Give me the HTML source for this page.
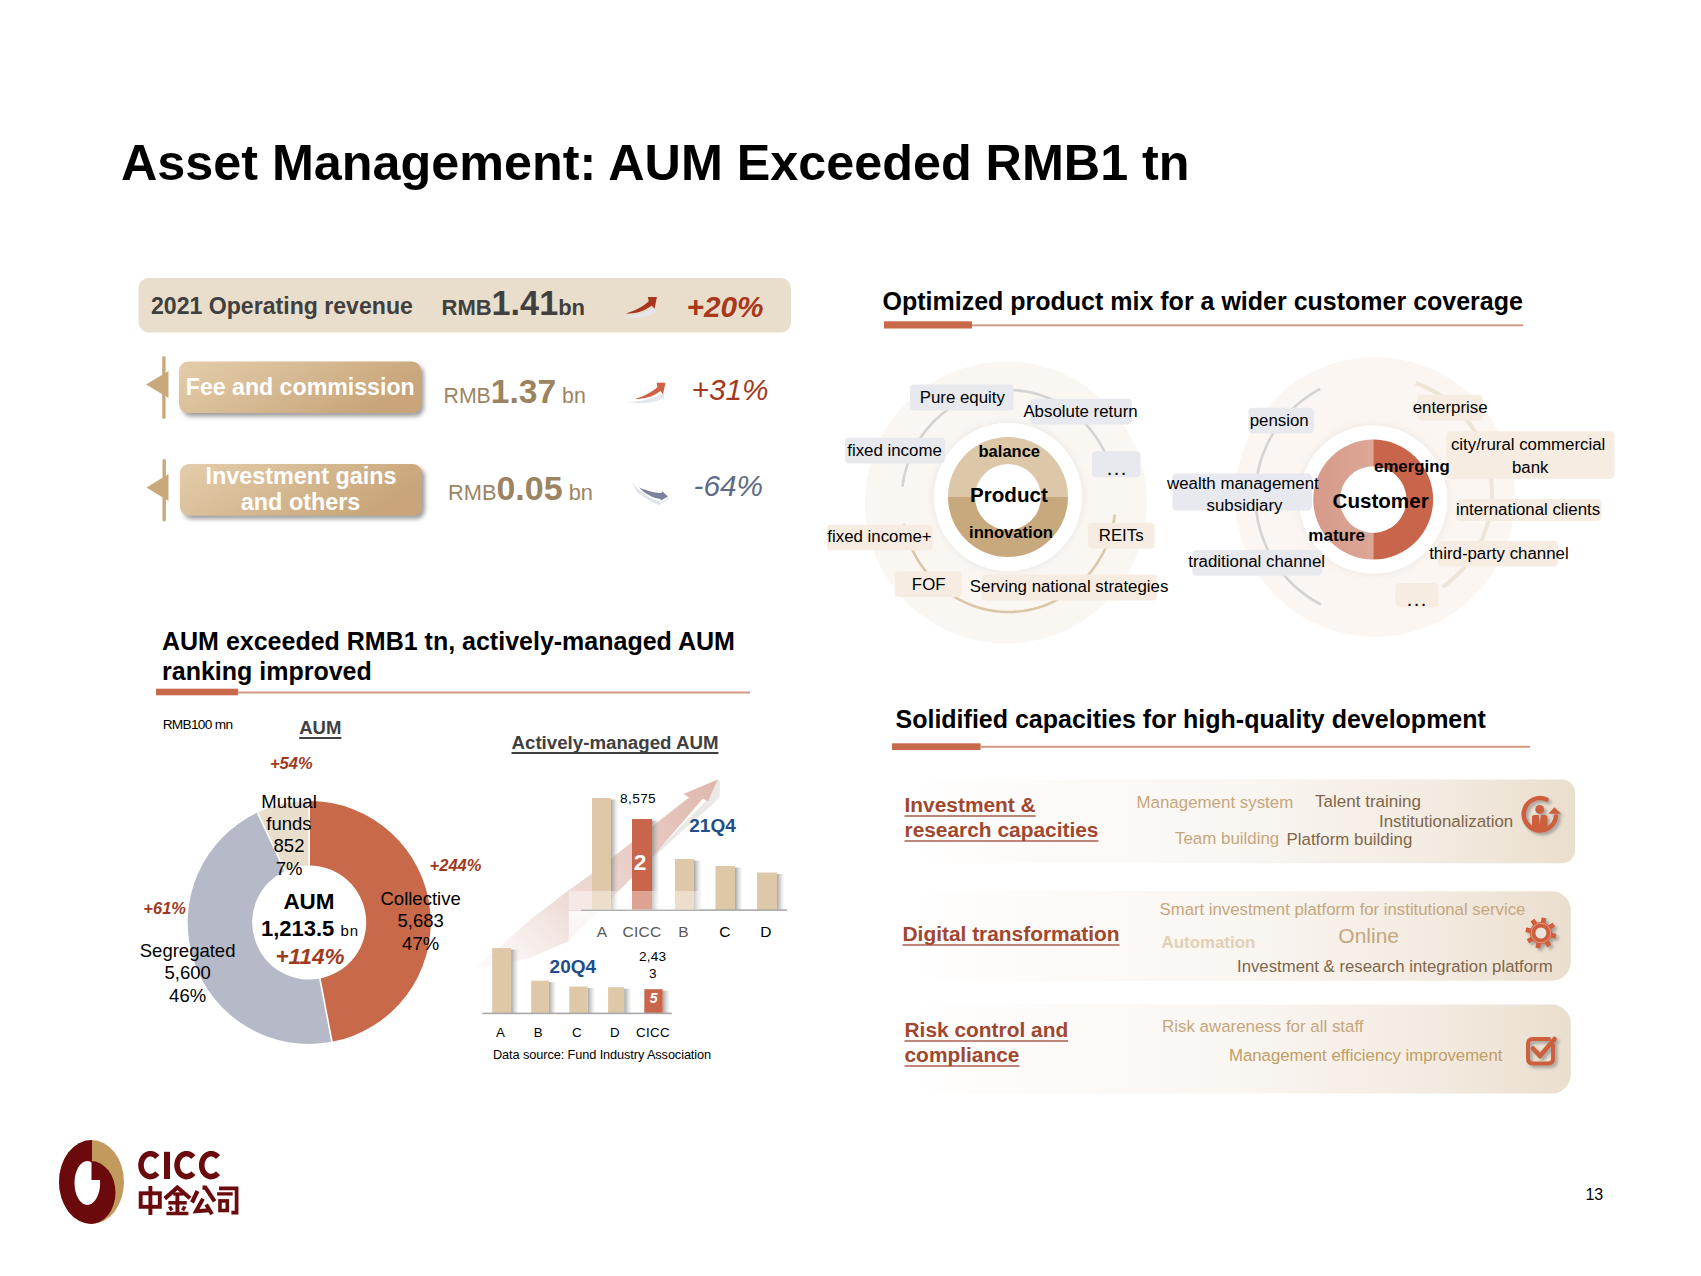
<!DOCTYPE html>
<html><head><meta charset="utf-8"><style>
*{margin:0;padding:0;box-sizing:border-box}
html,body{width:1701px;height:1276px;overflow:hidden;background:#fff}
body{position:relative;font-family:"Liberation Sans", sans-serif;color:#000}
svg.bg{position:absolute;left:0;top:0}
.t{position:absolute;white-space:nowrap;line-height:1}
</style></head><body>
<svg class="bg" width="1701" height="1276" viewBox="0 0 1701 1276">
<defs>
<linearGradient id="btn" x1="0" y1="0" x2="1" y2="0.35"><stop offset="0" stop-color="#e4cdab"/><stop offset="0.5" stop-color="#d6ba93"/><stop offset="1" stop-color="#c9a579"/></linearGradient>
<filter id="sh" x="-10%" y="-20%" width="130%" height="160%"><feDropShadow dx="3" dy="3.5" stdDeviation="2.2" flood-color="#6a6a6a" flood-opacity="0.65"/></filter>
<filter id="shi" x="-30%" y="-30%" width="170%" height="170%"><feDropShadow dx="2.5" dy="2.5" stdDeviation="1.8" flood-color="#777" flood-opacity="0.6"/></filter>
<filter id="halo" x="-30%" y="-30%" width="160%" height="160%"><feDropShadow dx="0" dy="0" stdDeviation="5" flood-color="#aaa" flood-opacity="0.25"/></filter>
<filter id="blur1"><feGaussianBlur stdDeviation="0.6"/></filter>
<linearGradient id="panel" x1="0" y1="0" x2="1" y2="0"><stop offset="0" stop-color="#fff" stop-opacity="0"/><stop offset="0.1" stop-color="#fefdfc"/><stop offset="0.5" stop-color="#faf6f2"/><stop offset="0.8" stop-color="#f3ebe1"/><stop offset="1" stop-color="#eadecd"/></linearGradient>
<linearGradient id="barsh" x1="0" y1="0" x2="1" y2="0"><stop offset="0" stop-color="#888" stop-opacity="0.75"/><stop offset="1" stop-color="#bbb" stop-opacity="0"/></linearGradient>
<linearGradient id="bigarrow" x1="500" y1="990" x2="718" y2="780" gradientUnits="userSpaceOnUse"><stop offset="0" stop-color="#f6eeec" stop-opacity="0.3"/><stop offset="0.35" stop-color="#ebd3cd" stop-opacity="0.8"/><stop offset="1" stop-color="#dcaea3" stop-opacity="0.9"/></linearGradient>
<linearGradient id="fadeW2" x1="0" y1="0" x2="0" y2="1"><stop offset="0" stop-color="#fff" stop-opacity="0.85"/><stop offset="0.8" stop-color="#fff" stop-opacity="0.6"/><stop offset="1" stop-color="#fff" stop-opacity="0"/></linearGradient>
<linearGradient id="custL" x1="0" y1="0" x2="1" y2="0"><stop offset="0" stop-color="#d69a89"/><stop offset="1" stop-color="#dca797"/></linearGradient>
</defs>
<rect x="138.5" y="278" width="652.5" height="54.5" rx="10" fill="#e9ddcb"/>
<rect x="162.2" y="356" width="3.4" height="63" rx="1.7" fill="#c9a87c"/>
<polygon points="146,384.6 168.5,371 168.5,398" fill="#c9a87c"/>
<rect x="179" y="361.5" width="242" height="51.5" rx="9" fill="url(#btn)" filter="url(#sh)"/>
<rect x="162.5" y="459" width="3.4" height="62.5" rx="1.7" fill="#c9a87c"/>
<polygon points="146.5,487.4 168.5,474 168.5,501" fill="#c9a87c"/>
<rect x="180" y="464" width="242" height="51.6" rx="9" fill="url(#btn)" filter="url(#sh)"/>
<g transform="translate(610,285) scale(1.0)"><path d="M7.5,31.5 C20,32 34,29 45,22 L46,27.5 C35,33 22,34.5 7.5,31.5 Z" fill="#e4e6ee" opacity="0.95"/><path d="M15.6,28.6 C24,26 32,22.5 38.8,16.3 L37.9,12.1 L46.9,12.1 L44.4,23.9 L41.9,20.4 C34,26.5 25,28.6 15.6,28.6 Z" fill="#a8351c"/></g>
<g transform="translate(619.5,371) scale(0.98)"><path d="M7.5,31.5 C20,32 34,29 45,22 L46,27.5 C35,33 22,34.5 7.5,31.5 Z" fill="#e4e6ee" opacity="0.95"/><path d="M15.6,28.6 C24,26 32,22.5 38.8,16.3 L37.9,12.1 L46.9,12.1 L44.4,23.9 L41.9,20.4 C34,26.5 25,28.6 15.6,28.6 Z" fill="#cf6140"/></g>
<g><path d="M632.9,482.7 C634.5,486 636.5,488.5 639,489.8 C643,493 646,495.5 648.2,496.8 C652,499 655.5,500.3 658.8,501 L660.6,503.2 L668.6,497.2 L669,499 L658.8,504.9 C654,503 651,501.5 648.2,499.6 C644,497 640.5,495 637.6,492.6 C635.5,490 634,487 632.9,484.1 Z" fill="#dfe2ea"/><path d="M639,487.3 C641,488.5 642.8,489.2 644.7,489.6 C647,490.6 649.5,491.2 651.7,491.7 C654,492.2 656.5,492.6 658.8,492.9 L661.8,492.75 L662.15,491.2 L668,496.5 L660.6,500.7 L660.9,499.3 C659,498.6 657,498.2 655.3,497.9 C652.5,496.9 650.3,495.8 648.2,494.7 C646.3,493.7 644.5,492.5 642.9,491.2 C641.4,490 640.2,488.7 639,487.3 Z" fill="#7b829c"/></g>
<rect x="884" y="321.3" width="88" height="7.2" fill="#c8694a"/>
<rect x="972" y="324.3" width="551" height="2" fill="#d29a86"/>
<rect x="156" y="688.7" width="82" height="6.6" fill="#c8694a"/>
<rect x="238" y="691.5" width="512" height="2" fill="#d29a86"/>
<rect x="892" y="743.3" width="88.6" height="6.7" fill="#c8694a"/>
<rect x="980.6" y="745.8" width="549.4" height="2" fill="#d29a86"/>
<circle cx="1006" cy="502.5" r="141" fill="#faf7f3"/>
<path d="M902.42,486.51 L903.11,481.80 L904.00,477.13 L905.09,472.51 L906.36,467.93 L907.82,463.42 L909.47,458.97 L911.30,454.60 L913.30,450.32 L915.49,446.13 L917.84,442.04 L920.36,438.06 L923.05,434.20 L925.89,430.46 L928.88,426.85 L932.02,423.37 L935.30,420.04 L938.71,416.86 L942.26,413.83 L945.92,410.96 L949.70,408.26 L953.59,405.73 L957.58,403.37 L961.66,401.20 L965.83,399.21 L970.08,397.40 L974.40,395.79 L978.78,394.37 L983.22,393.14 L987.70,392.12 L992.22,391.29 L996.77,390.67 L1001.35,390.25 L1005.93,390.03 L1010.52,390.02 L1015.11,390.21 L1019.68,390.61 L1024.24,391.21 L1028.76,392.01 L1033.25,393.01 L1037.69,394.21 L1042.08,395.61 L1046.41,397.20 L1050.67,398.98 L1054.85,400.95 L1058.94,403.11 L1062.94,405.44 L1066.84,407.95 L1070.64,410.63 L1074.31,413.48 L1077.87,416.49 L1081.30,419.65 L1084.60,422.97 L1087.76,426.43 L1090.77,430.02 L1093.63,433.75 L1096.33,437.60 L1098.87,441.56 L1101.24,445.64 L1103.45,449.82 L1105.47,454.09" fill="none" stroke="#d3d3d3" stroke-width="2.6"/>
<path d="M1114.70,514.53 L1113.98,519.67 L1113.02,524.77 L1111.83,529.82 L1110.42,534.81 L1108.78,539.72 L1106.92,544.55 L1104.85,549.28 L1102.56,553.91 L1100.07,558.42 L1097.38,562.80 L1094.49,567.05 L1091.42,571.16 L1088.16,575.11 L1084.73,578.89 L1081.13,582.51 L1077.37,585.95 L1073.46,589.20 L1069.41,592.26 L1065.23,595.12 L1060.92,597.77 L1056.49,600.21 L1051.96,602.43 L1047.34,604.43 L1042.63,606.20 L1037.84,607.74 L1032.99,609.05 L1028.09,610.12 L1023.14,610.96 L1018.17,611.55 L1013.17,611.89 L1008.16,612.00 L1003.15,611.86 L998.15,611.48 L993.18,610.86 L988.24,609.99 L983.34,608.89 L978.50,607.55 L973.72,605.97 L969.02,604.17 L964.41,602.14 L959.90,599.89 L955.49,597.42 L951.19,594.74 L947.03,591.85 L942.99,588.77 L939.10,585.49 L935.37,582.03 L931.79,578.39 L928.38,574.58 L925.15,570.60 L922.10,566.48 L919.24,562.21 L916.58,557.81 L914.11,553.28 L911.86,548.64 L909.81,543.90 L907.98,539.06 L906.38,534.13 L904.99,529.14 L903.84,524.08" fill="none" stroke="#dcc6a8" stroke-width="2.6"/>
<circle cx="1008" cy="497" r="74" fill="#fff" filter="url(#halo)"/>
<circle cx="1008" cy="497" r="74" fill="#fff"/>
<path d="M948.00,497.00 A60,60 0 0 1 1068.00,497.00 L1041.00,497.00 A33,33 0 0 0 975.00,497.00 Z" fill="#dcc7a8"/>
<path d="M1068.00,497.00 A60,60 0 0 1 948.00,497.00 L975.00,497.00 A33,33 0 0 0 1041.00,497.00 Z" fill="#c8a97e"/>
<rect x="910" y="384.5" width="103.6" height="26.0" rx="4" fill="#e8e9ee"/>
<rect x="1030" y="398.8" width="102.0" height="25.8" rx="4" fill="#e8e9ee"/>
<rect x="845" y="437.7" width="100.0" height="25.8" rx="4" fill="#e8e9ee"/>
<rect x="1092" y="451.3" width="48.5" height="26.0" rx="4" fill="#e8e9ee"/>
<rect x="827" y="524.7" width="105.7" height="25.5" rx="4" fill="#f6ece1"/>
<rect x="1088" y="522.7" width="66.6" height="25.8" rx="4" fill="#f6ece1"/>
<rect x="895" y="571.6" width="67.0" height="25.4" rx="4" fill="#f6ece1"/>
<rect x="981.3" y="574.5" width="175.7" height="26.0" rx="4" fill="#f6ece1"/>
<circle cx="1375" cy="497" r="140" fill="#fcf6f2"/>
<path d="M1321.17,604.72 A122,122 0 0 1 1320.22,388.78" fill="none" stroke="#d3d3d3" stroke-width="2.6"/>
<path d="M1415.67,383.00 A116,116 0 0 1 1442.53,587.02" fill="none" stroke="#efe4d8" stroke-width="4"/>
<circle cx="1373.2" cy="499.6" r="74" fill="#fff" filter="url(#halo)"/>
<circle cx="1373.2" cy="499.6" r="74" fill="#fff"/>
<path d="M1373.20,439.60 A60,60 0 0 1 1373.20,559.60 L1373.20,532.90 A33.3,33.3 0 0 0 1373.20,466.30 Z" fill="#c8654a"/>
<path d="M1373.20,559.60 A60,60 0 0 1 1373.20,439.60 L1373.20,466.30 A33.3,33.3 0 0 0 1373.20,532.90 Z" fill="url(#custL)"/>
<rect x="1248.4" y="407.7" width="65.6" height="25.7" rx="4.5" fill="#e8e9ee"/>
<rect x="1172.4" y="473.5" width="139.6" height="37.0" rx="4.5" fill="#e8e9ee"/>
<rect x="1192.3" y="550" width="130.2" height="25.7" rx="4.5" fill="#e8e9ee"/>
<rect x="1417" y="394.7" width="65.7" height="26.0" rx="4.5" fill="#f6ece1"/>
<rect x="1446" y="431.2" width="168.5" height="47.5" rx="4.5" fill="#f6ece1"/>
<rect x="1455.7" y="498.9" width="145.9" height="22.1" rx="4.5" fill="#f6ece1"/>
<rect x="1437.7" y="541" width="120.3" height="25.6" rx="4.5" fill="#f6ece1"/>
<rect x="1395.4" y="583" width="42.9" height="24.5" rx="4.5" fill="#f6ece1"/>
<path d="M309.20,801.00 A121.5,121.5 0 0 1 331.97,1041.85 L319.88,978.49 A57,57 0 0 0 309.20,865.50 Z" fill="#c8694a"/>
<path d="M331.97,1041.85 A121.5,121.5 0 0 1 257.47,812.56 L284.93,870.92 A57,57 0 0 0 319.88,978.49 Z" fill="#b6b9c7"/>
<path d="M257.47,812.56 A121.5,121.5 0 0 1 309.20,801.00 L309.20,865.50 A57,57 0 0 0 284.93,870.92 Z" fill="#e9ddcc"/>
<line x1="309.20" y1="866.50" x2="309.20" y2="799.50" stroke="#fff" stroke-width="1.6"/>
<line x1="319.69" y1="977.51" x2="332.25" y2="1043.32" stroke="#fff" stroke-width="1.6"/>
<line x1="285.36" y1="871.83" x2="256.83" y2="811.21" stroke="#fff" stroke-width="1.6"/>
<path d="M706,801 L717.6,779.5 L720,782 L719.5,797 L712,805 L680,833 L655,856 L650,858 Z" fill="#e6e3e3" opacity="0.85"/>
<path d="M474,969 L531,919 L568,890.8 L592.3,873.2 L689,797.5 L683.5,794 L717.6,779.5 L708,801.5 L703,798.5 L655,854 L610,900 L568.8,941 L530,958 Z" fill="url(#bigarrow)"/>
<rect x="611" y="799.5" width="7.5" height="110.5" fill="url(#barsh)"/>
<rect x="592" y="798" width="19" height="112" fill="#dfc8a7"/>
<rect x="652" y="820.5" width="7.5" height="89.5" fill="url(#barsh)"/>
<rect x="632" y="819" width="20" height="91" fill="#c8654a"/>
<rect x="694" y="860.5" width="7.5" height="49.5" fill="url(#barsh)"/>
<rect x="675" y="859" width="19" height="51" fill="#dfc8a7"/>
<rect x="735" y="867.5" width="7.5" height="42.5" fill="url(#barsh)"/>
<rect x="715.5" y="866" width="19.5" height="44" fill="#dfc8a7"/>
<rect x="777" y="874.0" width="7.5" height="36.0" fill="url(#barsh)"/>
<rect x="757" y="872.5" width="20" height="37.5" fill="#dfc8a7"/>
<rect x="581" y="909.3" width="206" height="1.6" fill="#a8a8a8"/>
<rect x="568.8" y="891" width="130.5" height="19" fill="#fff" opacity="0.4"/>
<rect x="568.8" y="911" width="130.5" height="40" fill="url(#fadeW2)"/>
<rect x="511.1" y="949.6" width="7.5" height="63.39999999999998" fill="url(#barsh)"/>
<rect x="492.2" y="948.1" width="18.900000000000034" height="64.89999999999998" fill="#dfc8a7"/>
<rect x="548.9" y="982.2" width="7.5" height="30.799999999999955" fill="url(#barsh)"/>
<rect x="531.2" y="980.7" width="17.699999999999932" height="32.299999999999955" fill="#dfc8a7"/>
<rect x="587.7" y="988.0" width="7.5" height="25.0" fill="url(#barsh)"/>
<rect x="569.3" y="986.5" width="18.40000000000009" height="26.5" fill="#dfc8a7"/>
<rect x="624.2" y="988.7" width="7.5" height="24.299999999999955" fill="url(#barsh)"/>
<rect x="608.1" y="987.2" width="16.100000000000023" height="25.799999999999955" fill="#dfc8a7"/>
<rect x="662.7" y="990.7" width="7.5" height="22.299999999999955" fill="url(#barsh)"/>
<rect x="644.3" y="989.2" width="18.40000000000009" height="23.799999999999955" fill="#c8654a"/>
<rect x="482.3" y="1012.6" width="189.5" height="1.6" fill="#a8a8a8"/>
<rect x="888" y="779.5" width="687" height="83.8" rx="13" fill="url(#panel)"/>
<rect x="888" y="891.3" width="682.8" height="89.4" rx="19" fill="url(#panel)"/>
<rect x="888" y="1004.6" width="682.8" height="89.0" rx="19" fill="url(#panel)"/>
<g filter="url(#shi)" fill="#cd5e3e"><path d="M1546.5,799.5 A16.2,16.2 0 1 0 1556,816.5" fill="none" stroke="#cd5e3e" stroke-width="4.6" stroke-linecap="round"/><polygon points="1548.4,813.8 1554.4,807.2 1561,813.8"/><circle cx="1539.7" cy="809.4" r="4.4"/><path d="M1532,816.5 Q1532,815 1534.5,815 L1538.8,815 L1539.6,825 L1541,815 L1545,815 Q1547.5,815 1547.5,817.5 L1547.5,825 Q1545,829 1539.7,829 Q1533,829 1532,825 Z"/></g>
<g filter="url(#shi)" fill="#cd5e3e"><rect x="1538.5" y="917.6" width="4.8" height="7" rx="0.6" transform="rotate(12 1540.9 933)"/><rect x="1538.5" y="917.6" width="4.8" height="7" rx="0.6" transform="rotate(57 1540.9 933)"/><rect x="1538.5" y="917.6" width="4.8" height="7" rx="0.6" transform="rotate(102 1540.9 933)"/><rect x="1538.5" y="917.6" width="4.8" height="7" rx="0.6" transform="rotate(147 1540.9 933)"/><rect x="1538.5" y="917.6" width="4.8" height="7" rx="0.6" transform="rotate(192 1540.9 933)"/><rect x="1538.5" y="917.6" width="4.8" height="7" rx="0.6" transform="rotate(237 1540.9 933)"/><rect x="1538.5" y="917.6" width="4.8" height="7" rx="0.6" transform="rotate(282 1540.9 933)"/><rect x="1538.5" y="917.6" width="4.8" height="7" rx="0.6" transform="rotate(327 1540.9 933)"/><circle cx="1540.9" cy="933" r="11" /></g>
<circle cx="1540.9" cy="933" r="5.5" fill="#e9e3dc"/>
<circle cx="1540.9" cy="933" r="9.8" fill="none" stroke="#f0c4b4" stroke-width="0.6"/>
<g filter="url(#shi)" fill="none" stroke="#cd5e3e" stroke-linecap="round" stroke-linejoin="round"><path d="M1549,1039 L1533,1039 Q1528,1039 1528,1044 L1528,1058.5 Q1528,1063.5 1533,1063.5 L1548,1063.5 Q1553,1063.5 1553,1058.5 L1553,1045" stroke-width="3.9"/><path d="M1533,1048.5 L1540,1056 L1554.5,1039" stroke-width="4.5"/></g>
<g><ellipse cx="91.5" cy="1182" rx="32.5" ry="42" fill="#c39a5e"/><path d="M92,1140 L91.5,1140 A32.5,42 0 0 0 91.5,1224 L92,1224 Z" fill="#6a0a0c"/><path d="M91,1161 A24.5,31.5 0 0 1 91,1224 Z" fill="#6a0a0c"/><clipPath id="lh"><path d="M0,1100 L91.5,1100 L91.5,1180 L200,1180 L200,1300 L0,1300 Z"/></clipPath><ellipse cx="87.3" cy="1183" rx="12.8" ry="22" fill="#fff" clip-path="url(#lh)"/></g>
<g fill="none" stroke="#6a0a0c" stroke-width="3.9" stroke-linecap="butt" stroke-linejoin="miter"><rect x="140.7" y="1193.3" width="19.1" height="13.5"/><line x1="150.4" y1="1186" x2="150.4" y2="1215"/><path d="M164.8,1198.6 L177.4,1187.5 L190,1198.3" stroke-width="4.1"/><line x1="173.2" y1="1194" x2="183.2" y2="1194" stroke-width="3.3"/><line x1="168.3" y1="1202.8" x2="186.7" y2="1202.8" stroke-width="3.5"/><line x1="177.4" y1="1195" x2="177.4" y2="1212.5"/><line x1="169.6" y1="1206.5" x2="171.8" y2="1210.4" stroke-width="3.5"/><line x1="184.8" y1="1206.5" x2="182.6" y2="1210.4" stroke-width="3.5"/><line x1="166.4" y1="1213.5" x2="188.4" y2="1213.5" stroke-width="3.5"/><path d="M197.5,1191 L192,1202.5" stroke-width="4.1"/><path d="M202.5,1187.6 L205.5,1187.6 L214.6,1201.3" stroke-width="4.1"/><path d="M203,1198.8 L196,1211.2 L209.8,1210.2" stroke-width="3.9"/><path d="M206.2,1204.6 L212,1214.3" stroke-width="3.9"/><path d="M219,1188.4 L236.6,1188.4 L236.6,1212.6 L231.4,1212.6" stroke-width="3.7"/><line x1="217.1" y1="1193.9" x2="232.7" y2="1193.9" stroke-width="3.3"/><rect x="220" y="1200.9" width="7.3" height="9.6" stroke-width="3.6"/></g>
<g fill="none" stroke="#6a0a0c" stroke-width="5.6"><path d="M157.23,1157.20 L156.41,1156.28 L155.50,1155.48 L154.52,1154.82 L153.48,1154.31 L152.40,1153.95 L151.30,1153.75 L150.18,1153.70 L149.06,1153.82 L147.96,1154.10 L146.90,1154.53 L145.89,1155.12 L144.94,1155.84 L144.07,1156.69 L143.29,1157.67 L142.61,1158.75 L142.04,1159.92 L141.59,1161.16 L141.26,1162.46 L141.07,1163.79 L141.00,1165.15 L141.07,1166.51 L141.26,1167.84 L141.59,1169.14 L142.04,1170.38 L142.61,1171.55 L143.29,1172.63 L144.07,1173.61 L144.94,1174.46 L145.89,1175.18 L146.90,1175.77 L147.96,1176.20 L149.06,1176.48 L150.18,1176.60 L151.30,1176.55 L152.40,1176.35 L153.48,1175.99 L154.52,1175.48 L155.50,1174.82 L156.41,1174.02 L157.23,1173.10"/><path d="M193.29,1157.20 L192.47,1156.28 L191.56,1155.48 L190.58,1154.82 L189.54,1154.31 L188.46,1153.95 L187.36,1153.75 L186.24,1153.70 L185.12,1153.82 L184.02,1154.10 L182.96,1154.53 L181.95,1155.12 L181.00,1155.84 L180.13,1156.69 L179.35,1157.67 L178.67,1158.75 L178.10,1159.92 L177.65,1161.16 L177.32,1162.46 L177.13,1163.79 L177.06,1165.15 L177.13,1166.51 L177.32,1167.84 L177.65,1169.14 L178.10,1170.38 L178.67,1171.55 L179.35,1172.63 L180.13,1173.61 L181.00,1174.46 L181.95,1175.18 L182.96,1175.77 L184.02,1176.20 L185.12,1176.48 L186.24,1176.60 L187.36,1176.55 L188.46,1176.35 L189.54,1175.99 L190.58,1175.48 L191.56,1174.82 L192.47,1174.02 L193.29,1173.10"/><path d="M217.94,1157.20 L217.12,1156.28 L216.21,1155.48 L215.23,1154.82 L214.19,1154.31 L213.11,1153.95 L212.01,1153.75 L210.89,1153.70 L209.77,1153.82 L208.67,1154.10 L207.61,1154.53 L206.60,1155.12 L205.65,1155.84 L204.78,1156.69 L204.00,1157.67 L203.32,1158.75 L202.75,1159.92 L202.30,1161.16 L201.97,1162.46 L201.78,1163.79 L201.71,1165.15 L201.78,1166.51 L201.97,1167.84 L202.30,1169.14 L202.75,1170.38 L203.32,1171.55 L204.00,1172.63 L204.78,1173.61 L205.65,1174.46 L206.60,1175.18 L207.61,1175.77 L208.67,1176.20 L209.77,1176.48 L210.89,1176.60 L212.01,1176.55 L213.11,1176.35 L214.19,1175.99 L215.23,1175.48 L216.21,1174.82 L217.12,1174.02 L217.94,1173.10"/></g>
<rect x="164" y="1151.8" width="6" height="27.2" fill="#6a0a0c"/>
</svg>
<div class="t" style="top:137.92px;font-size:50.3px;font-weight:bold;left:121.00px;">Asset Management: AUM Exceeded RMB1 tn</div>
<div class="t" style="top:294.85px;font-size:23.1px;font-weight:bold;color:#404040;left:151.00px;">2021 Operating revenue</div>
<div class="t" style="top:296.58px;font-size:22px;font-weight:bold;color:#404040;left:441.50px;">RMB<span style="font-size:34.2px;line-height:0">1.41</span>bn</div>
<div class="t" style="top:291.77px;font-size:29.8px;font-weight:bold;font-style:italic;color:#a8381c;left:686.50px;">+20%</div>
<div class="t" style="top:376.30px;font-size:23.15px;font-weight:bold;color:#fff;left:-299.80px;width:1200px;text-align:center;">Fee and commission</div>
<div class="t" style="top:385.77px;font-size:21.3px;color:#9c8462;left:443.50px;">RMB<b style="font-size:33.6px;line-height:0">1.37</b> bn</div>
<div class="t" style="top:375.07px;font-size:29.8px;font-style:italic;color:#a3391c;left:691.50px;">+31%</div>
<div class="t" style="top:464.59px;font-size:23.4px;font-weight:bold;color:#fff;left:-299.00px;width:1200px;text-align:center;">Investment gains</div>
<div class="t" style="top:491.39px;font-size:23.4px;font-weight:bold;color:#fff;left:-299.40px;width:1200px;text-align:center;">and others</div>
<div class="t" style="top:482.35px;font-size:21.8px;color:#9c8462;left:448.00px;">RMB<b style="font-size:34px;line-height:0">0.05</b> bn</div>
<div class="t" style="top:470.67px;font-size:29.8px;font-style:italic;color:#5f6a86;left:693.50px;">-64%</div>
<div class="t" style="top:289.44px;font-size:25px;font-weight:bold;left:882.50px;">Optimized product mix for a wider customer coverage</div>
<div class="t" style="top:629.14px;font-size:25px;font-weight:bold;left:162.00px;">AUM exceeded RMB1 tn, actively-managed AUM</div>
<div class="t" style="top:659.04px;font-size:25px;font-weight:bold;left:162.00px;">ranking improved</div>
<div class="t" style="top:707.24px;font-size:25px;font-weight:bold;left:895.50px;">Solidified capacities for high-quality development</div>
<div class="t" style="top:390.04px;font-size:16.85px;left:362.30px;width:1200px;text-align:center;">Pure equity</div>
<div class="t" style="top:404.14px;font-size:16.85px;left:480.50px;width:1200px;text-align:center;">Absolute return</div>
<div class="t" style="top:442.94px;font-size:16.85px;left:294.50px;width:1200px;text-align:center;">fixed income</div>
<div class="t" style="top:528.74px;font-size:16.85px;left:279.50px;width:1200px;text-align:center;">fixed income+</div>
<div class="t" style="top:528.04px;font-size:16.85px;left:521.20px;width:1200px;text-align:center;">REITs</div>
<div class="t" style="top:577.14px;font-size:16.85px;left:328.70px;width:1200px;text-align:center;">FOF</div>
<div class="t" style="top:579.04px;font-size:16.85px;left:469.10px;width:1200px;text-align:center;">Serving national strategies</div>
<div class="t" style="top:458.07px;font-size:20px;letter-spacing:1.45px;left:517.30px;width:1200px;text-align:center;">...</div>
<div class="t" style="top:444.49px;font-size:16.55px;font-weight:bold;left:409.30px;width:1200px;text-align:center;">balance</div>
<div class="t" style="top:485.46px;font-size:20.6px;font-weight:bold;left:408.90px;width:1200px;text-align:center;">Product</div>
<div class="t" style="top:525.35px;font-size:16.6px;font-weight:bold;left:411.00px;width:1200px;text-align:center;">innovation</div>
<div class="t" style="top:412.84px;font-size:16.85px;left:679.20px;width:1200px;text-align:center;">pension</div>
<div class="t" style="top:475.54px;font-size:16.85px;left:642.90px;width:1200px;text-align:center;">wealth management</div>
<div class="t" style="top:497.64px;font-size:16.85px;left:644.50px;width:1200px;text-align:center;">subsidiary</div>
<div class="t" style="top:554.34px;font-size:16.85px;left:656.70px;width:1200px;text-align:center;">traditional channel</div>
<div class="t" style="top:399.54px;font-size:16.85px;left:850.10px;width:1200px;text-align:center;">enterprise</div>
<div class="t" style="top:436.84px;font-size:16.85px;left:928.10px;width:1200px;text-align:center;">city/rural commercial</div>
<div class="t" style="top:459.84px;font-size:16.85px;left:930.20px;width:1200px;text-align:center;">bank</div>
<div class="t" style="top:501.84px;font-size:16.85px;left:928.10px;width:1200px;text-align:center;">international clients</div>
<div class="t" style="top:546.04px;font-size:16.85px;left:898.90px;width:1200px;text-align:center;">third-party channel</div>
<div class="t" style="top:588.97px;font-size:20px;letter-spacing:1.45px;left:817.30px;width:1200px;text-align:center;">...</div>
<div class="t" style="top:458.98px;font-size:16.8px;font-weight:bold;left:811.90px;width:1200px;text-align:center;">emerging</div>
<div class="t" style="top:491.16px;font-size:20.6px;font-weight:bold;left:780.60px;width:1200px;text-align:center;">Customer</div>
<div class="t" style="top:526.51px;font-size:17px;font-weight:bold;left:736.70px;width:1200px;text-align:center;">mature</div>
<div class="t" style="top:717.80px;font-size:13.7px;letter-spacing:-0.72px;left:162.70px;">RMB100 mn</div>
<div class="t" style="top:718.64px;font-size:18.5px;font-weight:bold;color:#404040;left:-279.70px;width:1200px;text-align:center;text-decoration:underline;text-decoration-thickness:1.5px;text-underline-offset:3px;text-decoration-skip-ink:none;">AUM</div>
<div class="t" style="top:755.13px;font-size:16.5px;font-weight:bold;font-style:italic;color:#a03a1e;left:-308.70px;width:1200px;text-align:center;">+54%</div>
<div class="t" style="top:792.64px;font-size:18.5px;left:-311.00px;width:1200px;text-align:center;">Mutual</div>
<div class="t" style="top:815.04px;font-size:18.5px;left:-311.00px;width:1200px;text-align:center;">funds</div>
<div class="t" style="top:837.44px;font-size:18.5px;left:-311.00px;width:1200px;text-align:center;">852</div>
<div class="t" style="top:859.84px;font-size:18.5px;left:-311.00px;width:1200px;text-align:center;">7%</div>
<div class="t" style="top:857.43px;font-size:16.5px;font-weight:bold;font-style:italic;color:#a03a1e;left:-144.50px;width:1200px;text-align:center;">+244%</div>
<div class="t" style="top:899.63px;font-size:16.5px;font-weight:bold;font-style:italic;color:#a03a1e;left:-435.30px;width:1200px;text-align:center;">+61%</div>
<div class="t" style="top:891.15px;font-size:22.5px;font-weight:bold;left:-291.00px;width:1200px;text-align:center;">AUM</div>
<div class="t" style="top:917.68px;font-size:22px;font-weight:bold;left:-290.00px;width:1200px;text-align:center;">1,213.5 <span style="font-weight:normal;font-size:15px;letter-spacing:1px">bn</span></div>
<div class="t" style="top:946.15px;font-size:22.5px;font-weight:bold;font-style:italic;color:#a03a1e;left:-290.00px;width:1200px;text-align:center;">+114%</div>
<div class="t" style="top:889.74px;font-size:18.5px;left:-179.40px;width:1200px;text-align:center;">Collective</div>
<div class="t" style="top:912.34px;font-size:18.5px;left:-179.40px;width:1200px;text-align:center;">5,683</div>
<div class="t" style="top:934.94px;font-size:18.5px;left:-179.40px;width:1200px;text-align:center;">47%</div>
<div class="t" style="top:941.94px;font-size:18.5px;left:-412.40px;width:1200px;text-align:center;">Segregated</div>
<div class="t" style="top:964.44px;font-size:18.5px;left:-412.40px;width:1200px;text-align:center;">5,600</div>
<div class="t" style="top:986.94px;font-size:18.5px;left:-412.40px;width:1200px;text-align:center;">46%</div>
<div class="t" style="top:734.27px;font-size:18.7px;font-weight:bold;color:#404040;left:15.00px;width:1200px;text-align:center;text-decoration:underline;text-decoration-thickness:1.5px;text-underline-offset:3px;text-decoration-skip-ink:none;">Actively-managed AUM</div>
<div class="t" style="top:791.60px;font-size:13.7px;letter-spacing:0.35px;left:38.10px;width:1200px;text-align:center;">8,575</div>
<div class="t" style="top:815.52px;font-size:19px;font-weight:bold;color:#1f4e89;left:112.50px;width:1200px;text-align:center;">21Q4</div>
<div class="t" style="top:850.60px;font-size:22.8px;font-weight:bold;color:#fff;left:40.00px;width:1200px;text-align:center;">2</div>
<div class="t" style="top:923.98px;font-size:15.5px;color:#595959;letter-spacing:0.3px;left:2.00px;width:1200px;text-align:center;">A</div>
<div class="t" style="top:923.98px;font-size:15.5px;color:#595959;letter-spacing:0.3px;left:42.00px;width:1200px;text-align:center;">CICC</div>
<div class="t" style="top:923.98px;font-size:15.5px;color:#595959;letter-spacing:0.3px;left:83.50px;width:1200px;text-align:center;">B</div>
<div class="t" style="top:923.98px;font-size:15.5px;letter-spacing:0.3px;left:125.00px;width:1200px;text-align:center;">C</div>
<div class="t" style="top:923.98px;font-size:15.5px;letter-spacing:0.3px;left:166.00px;width:1200px;text-align:center;">D</div>
<div class="t" style="top:949.69px;font-size:13.6px;letter-spacing:0.2px;left:52.70px;width:1200px;text-align:center;">2,43</div>
<div class="t" style="top:967.19px;font-size:13.6px;left:52.70px;width:1200px;text-align:center;">3</div>
<div class="t" style="top:957.22px;font-size:19px;font-weight:bold;color:#1f4e89;left:-27.20px;width:1200px;text-align:center;">20Q4</div>
<div class="t" style="top:991.15px;font-size:14px;font-weight:bold;font-style:italic;color:#fff;left:53.60px;width:1200px;text-align:center;">5</div>
<div class="t" style="top:1026.04px;font-size:13.3px;letter-spacing:0.4px;left:-99.30px;width:1200px;text-align:center;">A</div>
<div class="t" style="top:1026.04px;font-size:13.3px;letter-spacing:0.4px;left:-61.50px;width:1200px;text-align:center;">B</div>
<div class="t" style="top:1026.04px;font-size:13.3px;letter-spacing:0.4px;left:-23.00px;width:1200px;text-align:center;">C</div>
<div class="t" style="top:1026.04px;font-size:13.3px;letter-spacing:0.4px;left:14.90px;width:1200px;text-align:center;">D</div>
<div class="t" style="top:1026.04px;font-size:13.3px;letter-spacing:0.4px;left:53.00px;width:1200px;text-align:center;">CICC</div>
<div class="t" style="top:1049.11px;font-size:12.75px;letter-spacing:-0.1px;left:493.00px;">Data source: Fund Industry Association</div>
<div class="t" style="top:794.71px;font-size:20.9px;font-weight:bold;color:#a0472f;left:904.50px;text-decoration:underline;text-decoration-thickness:1.6px;text-underline-offset:2.5px;text-decoration-color:#c0857a;text-decoration-skip-ink:none;">Investment &amp;</div>
<div class="t" style="top:819.81px;font-size:20.9px;font-weight:bold;color:#a0472f;left:904.50px;text-decoration:underline;text-decoration-thickness:1.6px;text-underline-offset:2.5px;text-decoration-color:#c0857a;text-decoration-skip-ink:none;">research capacities</div>
<div class="t" style="top:923.61px;font-size:20.9px;font-weight:bold;color:#a0472f;left:902.50px;text-decoration:underline;text-decoration-thickness:1.6px;text-underline-offset:2.5px;text-decoration-color:#c0857a;text-decoration-skip-ink:none;">Digital transformation</div>
<div class="t" style="top:1019.71px;font-size:20.9px;font-weight:bold;color:#a0472f;left:904.50px;text-decoration:underline;text-decoration-thickness:1.6px;text-underline-offset:2.5px;text-decoration-color:#c0857a;text-decoration-skip-ink:none;">Risk control and</div>
<div class="t" style="top:1044.81px;font-size:20.9px;font-weight:bold;color:#a0472f;left:904.50px;text-decoration:underline;text-decoration-thickness:1.6px;text-underline-offset:2.5px;text-decoration-color:#c0857a;text-decoration-skip-ink:none;">compliance</div>
<div class="t" style="top:795.09px;font-size:16.9px;color:#c6a67d;left:1136.50px;">Management system</div>
<div class="t" style="top:793.07px;font-size:17.05px;color:#80664a;left:1315.00px;">Talent training</div>
<div class="t" style="top:813.99px;font-size:16.9px;color:#80664a;left:1379.00px;">Institutionalization</div>
<div class="t" style="top:830.79px;font-size:16.9px;color:#c6a67d;left:1175.00px;">Team building</div>
<div class="t" style="top:831.59px;font-size:16.9px;color:#80664a;left:1286.50px;">Platform building</div>
<div class="t" style="top:901.92px;font-size:16.75px;color:#c6a67d;left:1159.50px;">Smart investment platform for institutional service</div>
<div class="t" style="top:934.79px;font-size:16.9px;font-weight:bold;color:#e2cfb4;left:1161.50px;">Automation</div>
<div class="t" style="top:925.22px;font-size:21px;color:#c6a67d;left:1338.30px;">Online</div>
<div class="t" style="top:958.72px;font-size:16.75px;color:#80664a;left:1237.00px;">Investment &amp; research integration platform</div>
<div class="t" style="top:1019.49px;font-size:16.9px;color:#c6a67d;left:1162.00px;">Risk awareness for all staff</div>
<div class="t" style="top:1048.02px;font-size:16.75px;color:#c29d66;left:1229.00px;">Management efficiency improvement</div>
<div class="t" style="top:1186.86px;font-size:16px;left:994.30px;width:1200px;text-align:center;">13</div>
</body></html>
